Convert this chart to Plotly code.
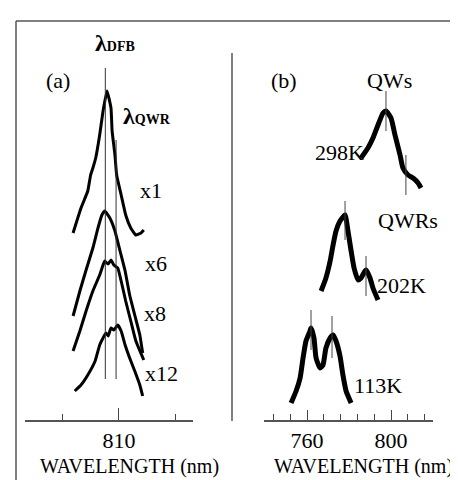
import plotly.graph_objects as go

# ---------------- data ----------------
# panel (a): DFB laser emission spectra at several gains (stacked, arbitrary units)
x1_wl = [801.9, 803.3, 804.5, 805.0, 805.4, 805.9, 806.6, 807.2, 807.9, 808.6, 808.8, 809.3, 809.6, 810.4, 811.2, 812.1, 813.0, 813.9, 814.4]
x1_int = [187, 212, 229, 245, 252, 262, 285, 309, 329, 312, 289, 265, 245, 225, 205, 192, 185, 187, 190]

x6_wl = [801.9, 803.1, 804.2, 805.4, 806.3, 807.0, 807.5, 808.4, 809.3, 810.2, 811.1, 811.9, 812.8, 813.7, 814.2]
x6_int = [104, 129, 150, 172, 192, 205, 209, 202, 189, 169, 149, 125, 105, 85, 67]

x8_wl = [801.9, 803.1, 804.2, 805.4, 806.6, 807.2, 807.5, 808.1, 808.6, 809.1, 809.8, 810.4, 811.2, 812.1, 813.0, 814.4]
x8_int = [69, 89, 109, 129, 145, 155, 159, 156, 160, 155, 152, 139, 119, 99, 79, 60]

x12_wl = [802.2, 803.3, 804.5, 805.8, 806.6, 807.2, 807.7, 808.1, 808.6, 809.1, 809.8, 810.4, 811.1, 811.9, 812.8, 813.7, 814.2]
x12_int = [29, 35, 45, 59, 75, 82, 87, 84, 92, 90, 95, 89, 75, 62, 49, 35, 24]

a_labels = ["x1", "x6", "x8", "x12"]

# marker lines panel (a): wavelength, bottom, top
a_mark_wl = [807.6, 809.5]
a_mark_lo = [41, 41]
a_mark_hi = [352, 280]

# panel (b): PL spectra at several temperatures (stacked)
t298_wl = [785.7, 789.0, 791.4, 793.8, 796.2, 797.6, 800.0, 801.9, 804.3, 805.7, 808.1, 810.5, 812.9, 814.3]
t298_int = [262, 272, 282, 295, 307, 309, 302, 285, 265, 252, 245, 242, 237, 232]

t202_wl = [766.7, 769.0, 771.0, 772.4, 773.8, 775.7, 778.1, 779.5, 781.0, 782.4, 784.3, 785.7, 787.6, 788.1, 790.0, 791.4, 793.8]
t202_int = [129, 142, 159, 175, 189, 199, 205, 189, 169, 152, 140, 142, 149, 150, 142, 132, 120]

t113_wl = [752.4, 754.8, 756.7, 758.1, 759.5, 761.4, 761.9, 763.3, 764.3, 766.2, 767.6, 769.0, 771.0, 772.4, 773.8, 775.7, 777.1, 778.6, 781.0]
t113_int = [17, 29, 42, 62, 79, 89, 92, 82, 62, 52, 55, 72, 82, 85, 79, 64, 45, 29, 17]

b_labels = ["298K", "202K", "113K"]

b_mark_wl = [797.6, 807.1, 778.1, 788.1, 761.9, 771.9]
b_mark_lo = [289, 225, 180, 124, 70, 62]
b_mark_hi = [329, 265, 219, 164, 110, 104]

a_ticks_major = [810]
a_ticks_minor = [800, 820]
b_ticks_major = [760, 800]
b_ticks_minor = [744, 752, 768, 776, 784, 792, 808, 816]

# ---------------- figure ----------------
FONT = "Liberation Serif"
W, H = 458, 480
fig = go.Figure()

for wl, it in [(x1_wl, x1_int), (x6_wl, x6_int), (x8_wl, x8_int), (x12_wl, x12_int)]:
    fig.add_trace(go.Scatter(x=wl, y=it, mode="lines", xaxis="x", yaxis="y",
                             line=dict(color="black", width=3, shape="spline", smoothing=0.35),
                             showlegend=False, hoverinfo="skip"))
for wl, lo, hi in zip(a_mark_wl, a_mark_lo, a_mark_hi):
    fig.add_trace(go.Scatter(x=[wl, wl], y=[lo, hi], mode="lines", xaxis="x", yaxis="y",
                             line=dict(color="#333333", width=1), showlegend=False, hoverinfo="skip"))

for wl, it in [(t298_wl, t298_int), (t202_wl, t202_int), (t113_wl, t113_int)]:
    fig.add_trace(go.Scatter(x=wl, y=it, mode="lines", xaxis="x2", yaxis="y2",
                             line=dict(color="black", width=5, shape="spline", smoothing=0.5),
                             showlegend=False, hoverinfo="skip"))
for wl, lo, hi in zip(b_mark_wl, b_mark_lo, b_mark_hi):
    fig.add_trace(go.Scatter(x=[wl, wl], y=[lo, hi], mode="lines", xaxis="x2", yaxis="y2",
                             line=dict(color="#444444", width=1), showlegend=False, hoverinfo="skip"))

def px(x):
    return x / W

def py(y):
    return 1 - y / H

ydom = [py(412), py(13)]
tickfont = dict(family=FONT, size=22, color="black")

fig.update_layout(
    width=W, height=H, margin=dict(l=0, r=0, t=0, b=0),
    paper_bgcolor="white", plot_bgcolor="rgba(0,0,0,0)",
    xaxis=dict(domain=[px(17), px(185)], range=[793.4, 823.1], anchor="y",
               showline=True, linecolor="#555555", linewidth=1.5,
               showgrid=False, zeroline=False,
               tickmode="array", tickvals=a_ticks_major, ticktext=[str(v) for v in a_ticks_major],
               ticks="inside", ticklen=12, tickcolor="#444444", tickwidth=1.2,
               tickfont=tickfont,
               minor=dict(tickvals=a_ticks_minor, ticks="inside", ticklen=6, tickcolor="#444444", tickwidth=1.2)),
    yaxis=dict(domain=ydom, range=[0, 399], visible=False),
    xaxis2=dict(domain=[px(256), px(425)], range=[739.5, 820.0], anchor="y2",
                showline=True, linecolor="#555555", linewidth=1.5,
                showgrid=False, zeroline=False,
                tickmode="array", tickvals=b_ticks_major, ticktext=[str(v) for v in b_ticks_major],
                ticks="inside", ticklen=10, tickcolor="#444444", tickwidth=1.2,
                tickfont=tickfont,
                minor=dict(tickvals=b_ticks_minor, ticks="inside", ticklen=6, tickcolor="#444444", tickwidth=1.2)),
    yaxis2=dict(domain=ydom, range=[0, 399], visible=False),
)

# frame lines
for x0, y0, x1, y1 in [(8, 13, W, 13), (8, 13, 8, H), (224, 45, 224, 413)]:
    fig.add_shape(type="line", xref="paper", yref="paper",
                  x0=px(x0), y0=py(y0), x1=px(x1), y1=py(y1),
                  line=dict(color="#555555", width=1.5))

def ann(text, x, y, size=22):
    fig.add_annotation(text=text, xref="paper", yref="paper", x=px(x), y=py(y),
                       xanchor="center", yanchor="middle", showarrow=False,
                       font=dict(family=FONT, size=size, color="black"))

ann("<b>λ</b><span style='font-size:14px'><b>DFB</b></span>", 107, 35, 24)
ann("<b>λ</b><span style='font-size:14px'><b>QWR</b></span>", 139, 108, 24)
ann("(a)", 50, 72)
for t, (x, y) in zip(a_labels, [(143, 182), (148, 255), (147, 305), (153, 365)]):
    ann(t, x, y)
ann("(b)", 276, 72)
ann("QWs", 381, 72)
ann("QWRs", 400, 212)
for t, (x, y) in zip(b_labels, [(331, 145), (393, 277), (370, 377)]):
    ann(t, x, y)
ann("WAVELENGTH (nm)", 121, 458, 20)
ann("WAVELENGTH (nm)", 355, 458, 20)

fig.write_html("out.html")
